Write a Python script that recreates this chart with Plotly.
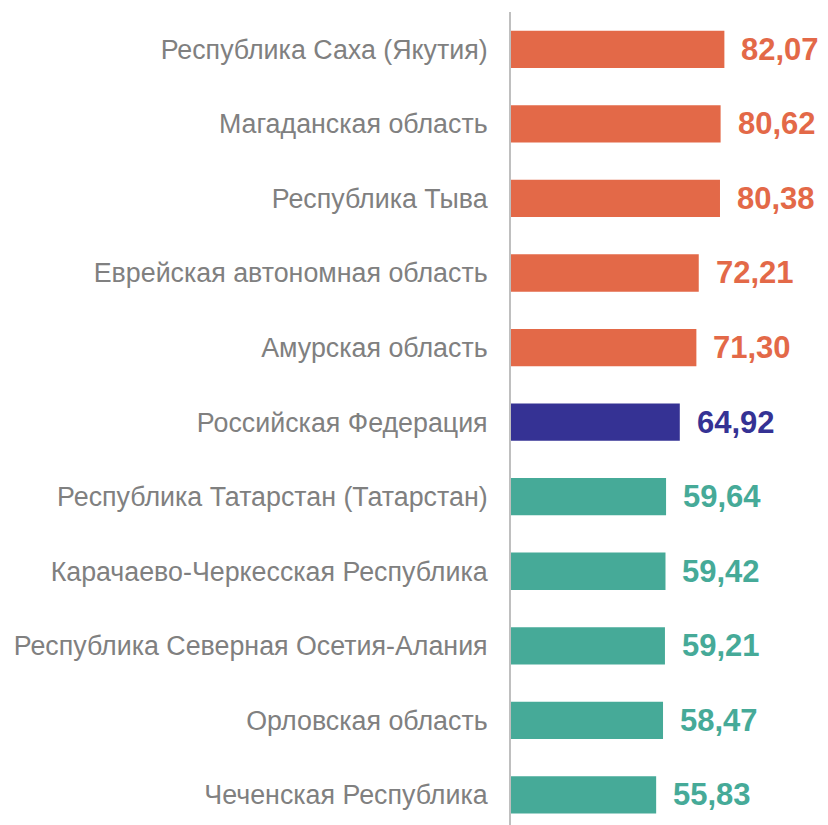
import plotly.graph_objects as go

# Data
regions = [
    "Республика Саха (Якутия)",
    "Магаданская область",
    "Республика Тыва",
    "Еврейская автономная область",
    "Амурская область",
    "Российская Федерация",
    "Республика Татарстан (Татарстан)",
    "Карачаево-Черкесская Республика",
    "Республика Северная Осетия-Алания",
    "Орловская область",
    "Чеченская Республика",
]
values = [82.07, 80.62, 80.38, 72.21, 71.30, 64.92, 59.64, 59.42, 59.21, 58.47, 55.83]
groups = ["high"] * 5 + ["rf"] + ["low"] * 5

palette = {"high": "#E36948", "rf": "#353294", "low": "#46AA98"}
colors = [palette[g] for g in groups]

fig = go.Figure()
fig.add_trace(go.Bar(
    x=values,
    y=regions,
    orientation="h",
    marker=dict(color=colors, line=dict(width=0)),
    width=0.5,
    hoverinfo="skip",
))

# value labels to the right of each bar
for region, v, c in zip(regions, values, colors):
    fig.add_annotation(
        x=v, y=region,
        text=f"{v:.2f}".replace(".", ","),
        showarrow=False,
        xanchor="left", yanchor="middle",
        xshift=15,
        font=dict(family="Liberation Sans, Arial, sans-serif", size=31, color=c, weight="bold"),
    )

fig.update_layout(
    width=828, height=825,
    margin=dict(l=503, r=0, t=4, b=0),
    plot_bgcolor="white",
    paper_bgcolor="white",
    showlegend=False,
    font=dict(family="Liberation Sans, Arial, sans-serif"),
)
fig.update_xaxes(range=[0, 125], showgrid=False, zeroline=False, showticklabels=False, showline=False)
fig.update_yaxes(
    type="category",
    range=[10.51, -0.5],
    automargin=False,
    showgrid=False, zeroline=False,
    showline=True, linecolor="#BFBFBF", linewidth=2,
    ticks="", ticklabelstandoff=16,
    tickfont=dict(size=26.8, color="#808080"),
)

fig.write_html("out.html")
